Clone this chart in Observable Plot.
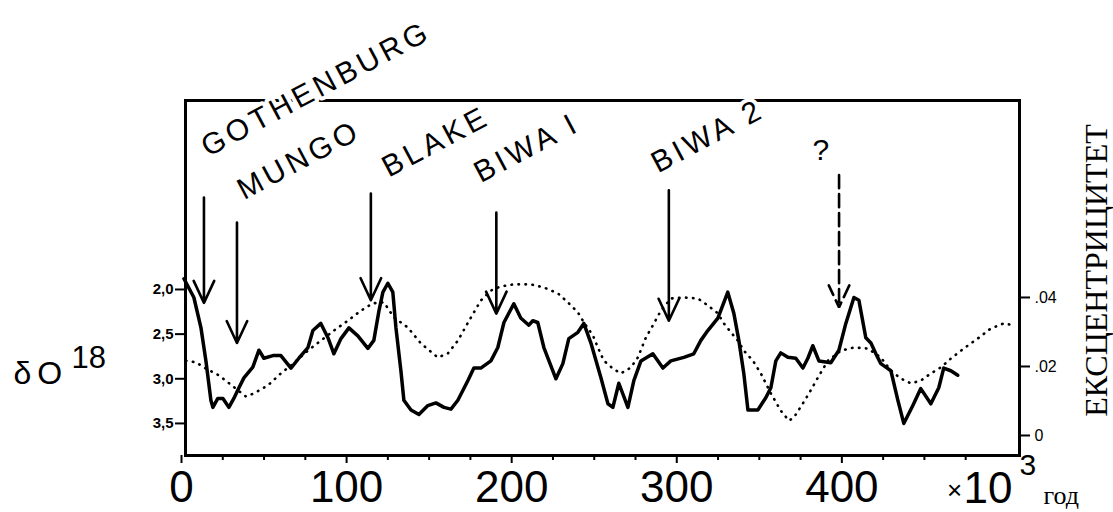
<!DOCTYPE html>
<html><head><meta charset="utf-8">
<script src="https://cdn.jsdelivr.net/npm/d3@7"></script>
<script src="https://cdn.jsdelivr.net/npm/@observablehq/plot@0.6"></script>
<style>body{margin:0;background:#fff}</style>
</head><body><div id="chart"></div>
<script>
// δ18O record (ka, per mil)
const o18Age = [1.5,7.5,11.8,14.8,17.8,19.0,22.0,25.1,28.7,31.7,34.8,37.8,43.2,46.9,49.9,55.4,60.2,66.3,71.1,76.6,79.6,84.4,88.7,92.3,96.6,101.4,106.8,112.9,116.5,119.6,122.0,125.0,128.0,129.9,132.9,134.7,139.0,143.8,149.2,154.1,159.0,163.2,167.4,173.5,177.1,181.3,187.4,191.6,195.3,201.3,205.5,210.4,212.8,215.8,219.5,226.8,231.0,234.6,240.1,243.7,248.0,254.1,258.3,261.3,264.9,270.4,274.0,278.3,285.5,291.6,296.4,304.3,310.3,314.6,318.8,324.9,330.9,334.6,337.6,340.6,343.1,349.1,354.0,357.0,360.0,363.0,367.3,372.1,376.4,379.4,382.4,386.1,393.3,398.2,402.4,407.3,410.3,414.5,417.6,420.6,423.6,426.6,429.7,433.9,437.5,443.0,447.8,453.9,458.7,461.7,466.0,470.2];
const o18Val = [1.88,2.09,2.43,2.80,3.24,3.32,3.22,3.22,3.32,3.22,3.10,2.99,2.87,2.68,2.77,2.74,2.74,2.88,2.77,2.65,2.46,2.38,2.54,2.72,2.55,2.43,2.52,2.66,2.57,2.24,2.03,1.93,2.03,2.43,2.91,3.24,3.35,3.40,3.30,3.27,3.32,3.34,3.24,3.02,2.88,2.88,2.80,2.65,2.37,2.16,2.32,2.40,2.35,2.37,2.65,3.00,2.83,2.55,2.48,2.38,2.60,2.99,3.28,3.32,3.05,3.32,3.02,2.80,2.72,2.88,2.80,2.76,2.72,2.57,2.46,2.32,2.03,2.27,2.57,2.94,3.35,3.35,3.21,3.10,2.80,2.71,2.76,2.77,2.88,2.77,2.63,2.80,2.82,2.68,2.38,2.09,2.12,2.54,2.60,2.72,2.83,2.87,2.91,3.24,3.50,3.30,3.11,3.28,3.10,2.88,2.91,2.96];

// orbital eccentricity (ka, dimensionless)
const eccAge = [2.7,8.7,14.8,22.7,28.1,32.9,39.0,43.9,52.3,60.2,66.3,76.6,84.4,92.3,100.8,108.7,115.9,122.6,128.7,137.1,145.0,155.3,161.4,167.4,175.3,181.3,187.4,193.4,201.3,211.6,219.5,228.0,234.0,240.1,243.7,249.2,252.2,255.8,261.3,266.1,272.2,276.4,281.3,285.5,290.4,296.4,304.3,312.8,318.8,324.9,328.5,332.8,337.0,340.6,346.1,350.9,357.0,363.0,367.9,370.9,376.4,380.1,385.5,391.6,399.5,407.3,415.8,423.6,429.7,435.7,441.8,447.8,453.9,459.9,466.0,473.8,482.3,490.2,498.1,504.2];
const eccVal = [0.0217,0.0212,0.0194,0.0174,0.0154,0.0136,0.0113,0.0122,0.0145,0.0180,0.0203,0.0246,0.0275,0.0304,0.0333,0.0362,0.0383,0.0386,0.0342,0.0313,0.0267,0.0226,0.0238,0.0275,0.0342,0.0391,0.0420,0.0432,0.0438,0.0438,0.0429,0.0412,0.0386,0.0357,0.0328,0.0290,0.0255,0.0217,0.0194,0.0180,0.0197,0.0226,0.0284,0.0319,0.0362,0.0397,0.0400,0.0397,0.0377,0.0354,0.0325,0.0299,0.0275,0.0246,0.0217,0.0180,0.0122,0.0072,0.0043,0.0052,0.0093,0.0122,0.0168,0.0217,0.0246,0.0255,0.0252,0.0226,0.0188,0.0165,0.0151,0.0159,0.0180,0.0197,0.0223,0.0252,0.0281,0.0310,0.0325,0.0319];

// tick values and labels
const xTicks = [0,100,200,300,400];
const xMinorTicks = [25,50,75,125,150,175,225,250,275,325,350,375,425,450,475];
const o18Ticks = [2.0,2.5,3.0,3.5];
const o18TickLabels = ["2,0","2,5","3,0","3,5"];
const eccTicks = [0,0.02,0.04];
const eccTickLabels = ["0",".02",".04"];

// geomagnetic excursions
const eventNames = ["GOTHENBURG","MUNGO","BLAKE","BIWA I","BIWA 2","?"];
const eventAges = [13.6,33.6,114.7,190.7,295.2,398.3];

// ---- layout / annotation geometry (not data) ----
const W = 1113, H = 512, ML = 181, MR = 94, MT = 100, MB = 57;
const arrowTop = [0.97,1.25,0.925,1.14,0.89,0.72];
const arrowTip = [2.15,2.60,2.12,2.27,2.35,2.20];
const labelAt = [[16.0,0.52],[37.8,1.00],[125.6,0.75],[181.3,0.81],[288.6,0.70],[387.3,0.555]];

// right (eccentricity) axis expressed in δ18O units
const eccToO18 = e => 2 + (146 - 3450 * e) / 89.3;

const o18 = o18Age.map((t, i) => ({t, v: o18Val[i]}));
const ecc = eccAge.map((t, i) => ({t, v: eccToO18(eccVal[i])}));
const events = eventNames.map((name, i) => ({
  name, t: eventAges[i], top: arrowTop[i], tip: arrowTip[i],
  lx: labelAt[i][0], ly: labelAt[i][1]
}));

const px = (x, y) => ({frameAnchor: "top-left", dx: x - ML, dy: y - MT});

const chart = Plot.plot({
  width: W, height: H,
  marginLeft: ML, marginRight: MR, marginTop: MT, marginBottom: MB,
  style: {fontFamily: "Liberation Sans, Arial, sans-serif", fontSize: "14px", background: "white", color: "black"},
  x: {domain: [0, 507.6], label: null},
  y: {domain: [3.859, -0.116], label: null},
  marks: [
    Plot.frame({stroke: "black", strokeWidth: 3, insetLeft: 4}),
    Plot.axisX({ticks: xTicks, tickSize: 8, tickPadding: 7, fontSize: 44, tickFormat: d => String(d), label: null, strokeWidth: 2}),
    Plot.axisX({ticks: xMinorTicks, tickSize: 5, tickFormat: () => "", label: null, strokeWidth: 2}),
    Plot.axisY({anchor: "left", ticks: o18Ticks, dx: 4, tickSize: 10, tickPadding: 2, fontSize: 15, fontWeight: "bold",
      tickFormat: d => o18TickLabels[o18Ticks.indexOf(d)], label: null, strokeWidth: 2}),
    Plot.axisY({anchor: "right", ticks: eccTicks.map(eccToO18), tickSize: 10, tickPadding: 5, fontSize: 16,
      tickFormat: d => eccTickLabels[eccTicks.findIndex(e => Math.abs(eccToO18(e) - d) < 1e-6)], label: null, strokeWidth: 2}),
    Plot.line(ecc, {x: "t", y: "v", stroke: "black", strokeWidth: 2.6, strokeDasharray: "0.5,6.5", strokeLinecap: "round"}),
    Plot.line(o18, {x: "t", y: "v", stroke: "black", strokeWidth: 3.5, strokeLinejoin: "round"}),
    Plot.arrow(events.filter(d => d.name !== "?"), {x1: "t", x2: "t", y1: "top", y2: "tip", stroke: "black", strokeWidth: 2.6, headLength: 14, headAngle: 50}),
    Plot.arrow(events.filter(d => d.name === "?"), {x1: "t", x2: "t", y1: "top", y2: "tip", stroke: "black", strokeWidth: 2.6, headLength: 14, headAngle: 50, strokeDasharray: "13,6"}),
    Plot.text(events.filter(d => d.name !== "?"), {x: "lx", y: "ly", text: "name", rotate: -28, textAnchor: "start", lineAnchor: "bottom",
      fontSize: 30, fill: "black", stroke: "white", strokeWidth: 8}),
    Plot.text(events.filter(d => d.name === "?"), {x: "lx", y: "ly", text: "name", textAnchor: "middle", lineAnchor: "bottom",
      fontSize: 30, fill: "black"}),
    Plot.text(["δO"], {text: d => d, ...px(13, 383), textAnchor: "start", lineAnchor: "bottom", fontSize: 32, fill: "black"}),
    Plot.text(["18"], {text: d => d, ...px(71, 367), textAnchor: "start", lineAnchor: "bottom", fontSize: 31, fill: "black"}),
    Plot.text(["ЕКСЦЕНТРИЦИТЕТ"], {text: d => d, ...px(1096, 270), rotate: -90, textAnchor: "middle", lineAnchor: "middle",
      fontSize: 32, fontFamily: "Liberation Serif, DejaVu Serif, serif", fill: "black"}),
    Plot.text(["×"], {text: d => d, ...px(954, 490), textAnchor: "middle", lineAnchor: "middle", fontSize: 26, fill: "black"}),
    Plot.text(["10"], {text: d => d, ...px(1012, 502), textAnchor: "end", lineAnchor: "bottom", fontSize: 44, fill: "black"}),
    Plot.text(["3"], {text: d => d, ...px(1019, 474), textAnchor: "start", lineAnchor: "bottom", fontSize: 30, fill: "black"}),
    Plot.text(["год"], {text: d => d, ...px(1043, 503), textAnchor: "start", lineAnchor: "bottom", fontSize: 26,
      fontFamily: "Liberation Serif, DejaVu Serif, serif", fill: "black"})
  ]
});

const labelSet = new Set(eventNames.filter(n => n !== "?"));
d3.select(chart).selectAll("text").each(function() {
  const s = this.textContent;
  if (labelSet.has(s)) this.setAttribute("letter-spacing", "4");
  if (s === "δO") this.setAttribute("letter-spacing", "6");
});
document.getElementById("chart").appendChild(chart);
</script>
</body></html>
